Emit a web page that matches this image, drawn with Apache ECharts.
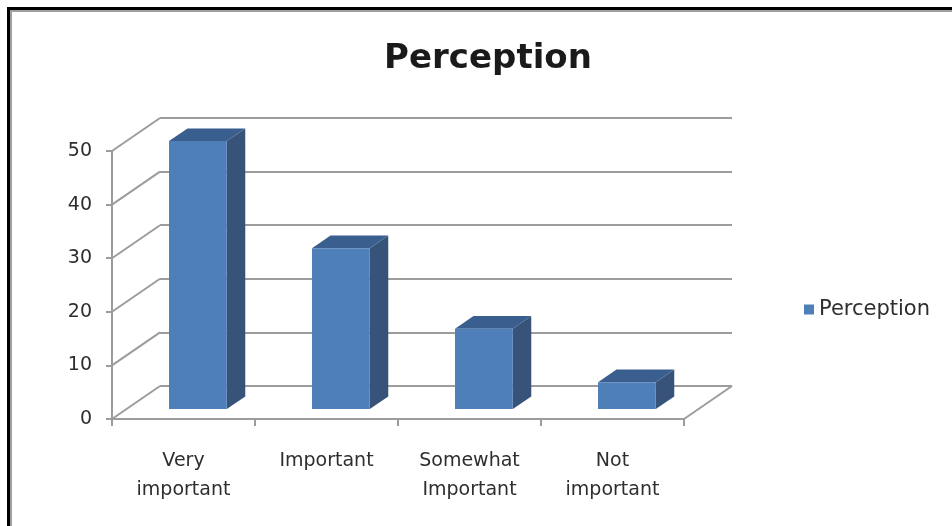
<!DOCTYPE html>
<html>
<head>
<meta charset="utf-8">
<script src="https://cdn.jsdelivr.net/npm/echarts@6/dist/echarts.min.js"></script>
<style>
  html, body { margin: 0; padding: 0; background: #fff; }
  #chart { position: absolute; left: 0; top: 0; width: 952px; height: 526px; }
  #frameBlack { position: absolute; left: 7px; top: 7px; right: 0; bottom: 0; border-top: 3px solid #000; border-left: 3px solid #000; pointer-events: none; }
  #frameGrey { position: absolute; left: 10px; top: 10px; right: 0; bottom: 0; border-top: 2px solid #a0a0a0; border-left: 2px solid #a0a0a0; pointer-events: none; }
</style>
</head>
<body>
<div id="chart"></div>
<div id="frameBlack"></div>
<div id="frameGrey"></div>
<script>
const categories = ['Very\nimportant', 'Important', 'Somewhat\nImportant', 'Not\nimportant'];
const perception = [50, 30, 15, 5];
const yTicks = [0, 10, 20, 30, 40, 50];

// 3D depth offset of the back wall relative to the front plane (pixels)
const DX = 48, DY = -33;
const T = 0.3;      // depth of the bar front face (fraction of floor depth)
const D = 0.385;    // bar depth (fraction of floor depth)
const HALF = 0.202; // bar half-width (fraction of category width)

const GRID_COLOR = '#9c9c9c';
const FONT = 'DejaVu Sans';

function renderBar(params, api) {
  const i = api.value(0), v = api.value(1);
  const base = api.coord([i, 0]);
  const top = api.coord([i, v]);
  const bw = api.size([1, 0])[0];
  const hw = bw * HALF;
  const ox = T * DX, oy = T * DY;
  const x0 = base[0] - hw + ox, x1 = base[0] + hw + ox;
  const yb = base[1] + oy, yt = top[1] + oy;
  const dx = D * DX, dy = D * DY;
  return {
    type: 'group',
    children: [
      { type: 'polygon', shape: { points: [[x1, yb], [x1 + dx, yb + dy], [x1 + dx, yt + dy], [x1, yt]] },
        style: { fill: '#37537a' } },
      { type: 'polygon', shape: { points: [[x0, yt], [x1, yt], [x1 + dx, yt + dy], [x0 + dx, yt + dy]] },
        style: { fill: '#3a5f8f' } },
      { type: 'polygon', shape: { points: [[x0, yb], [x1, yb], [x1, yt], [x0, yt]] },
        style: { fill: '#4f7fb9' } }
    ]
  };
}

function renderWall(params, api) {
  const v = api.value(1);
  const p = api.coord([0, v]);
  const cs = params.coordSys;
  const x = cs.x;
  const children = [
    { type: 'line', shape: { x1: x, y1: p[1], x2: x + DX, y2: p[1] + DY },
      style: { stroke: GRID_COLOR, lineWidth: 2 } }
  ];
  if (v === 0) {
    const xr = cs.x + cs.width;
    children.push({ type: 'line', shape: { x1: xr, y1: p[1], x2: xr + DX, y2: p[1] + DY },
      style: { stroke: GRID_COLOR, lineWidth: 2 } });
  }
  return { type: 'group', children };
}

const chart = echarts.init(document.getElementById('chart'));
chart.setOption({
  animation: false,
  backgroundColor: '#fff',
  title: {
    text: 'Perception',
    left: 483, top: 37, textAlign: 'center',
    textStyle: { fontFamily: FONT, fontSize: 34, fontWeight: 'bold', color: '#1a1a1a' }
  },
  legend: {
    data: ['Perception'],
    left: 799, top: 294,
    icon: 'rect', itemWidth: 10, itemHeight: 10,
    textStyle: { fontFamily: FONT, fontSize: 21, color: '#2e2e2e' }
  },
  grid: [
    { left: 112, right: 952 - 684, top: 151, bottom: 526 - 419, containLabel: false },
    { left: 112 + DX, right: 952 - 684 - DX, top: 151 + DY, bottom: 526 - 419 - DY, containLabel: false }
  ],
  xAxis: [
    { type: 'category', gridIndex: 0, data: categories,
      axisLine: { lineStyle: { color: GRID_COLOR, width: 2 } },
      axisTick: { show: true, length: 7, lineStyle: { color: GRID_COLOR, width: 2 } },
      axisLabel: { fontFamily: FONT, fontSize: 19, color: '#2e2e2e', margin: 28, lineHeight: 29, interval: 0 },
      splitLine: { show: false } },
    { type: 'category', gridIndex: 1, data: categories, show: false }
  ],
  yAxis: [
    { type: 'value', gridIndex: 0, min: 0, max: 50, interval: 10,
      axisLine: { show: true, lineStyle: { color: GRID_COLOR, width: 2 } },
      axisTick: { show: true, length: 6, lineStyle: { color: GRID_COLOR, width: 2 } },
      axisLabel: { fontFamily: FONT, fontSize: 19, color: '#2e2e2e', margin: 20 },
      splitLine: { show: false } },
    { type: 'value', gridIndex: 1, min: 0, max: 50, interval: 10,
      axisLine: { show: false }, axisTick: { show: false }, axisLabel: { show: false },
      splitLine: { show: true, lineStyle: { color: GRID_COLOR, width: 2 } } }
  ],
  series: [
    { name: 'walls', type: 'custom', xAxisIndex: 0, yAxisIndex: 0,
      renderItem: renderWall, data: yTicks.map(v => [0, v]), z: 1, silent: true },
    { name: 'Perception', type: 'custom', xAxisIndex: 0, yAxisIndex: 0,
      renderItem: renderBar, itemStyle: { color: '#4f7fb9' },
      data: perception.map((v, i) => [i, v]), z: 3,
      encode: { x: 0, y: 1 } }
  ]
});
</script>
</body>
</html>
